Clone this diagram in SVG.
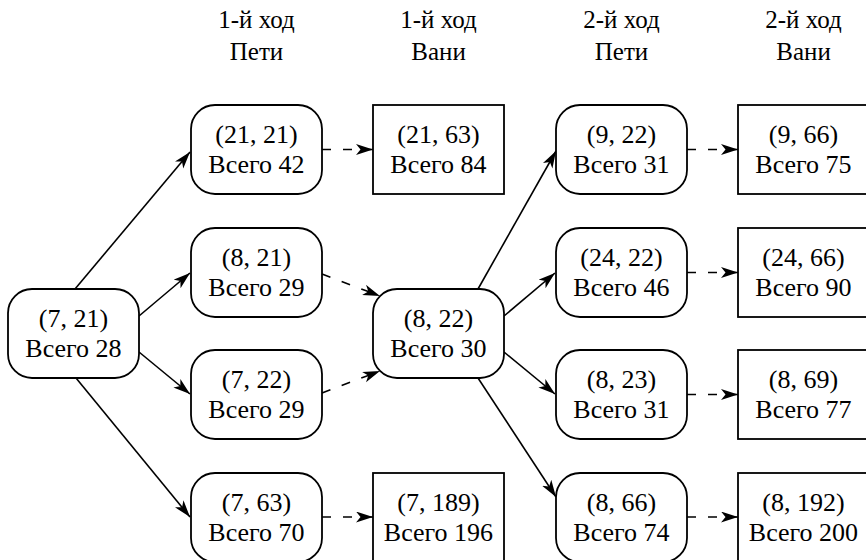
<svg xmlns="http://www.w3.org/2000/svg" width="866" height="560" viewBox="0 0 866 560">
<style>
text{font-family:"Liberation Serif","Times New Roman",serif;fill:#000;text-anchor:middle}
.box{fill:#fff;stroke:#000;stroke-width:1.8}
.t{font-size:26px}
.h{font-size:25px}
.s{fill:none;stroke:#000;stroke-width:1.6}
.d{fill:none;stroke:#000;stroke-width:1.6;stroke-dasharray:9 12}
</style>
<defs>
<marker id="ah" markerUnits="userSpaceOnUse" markerWidth="20" markerHeight="12" refX="17" refY="5.5" orient="auto" viewBox="0 0 20 12">
<path d="M0,0 L17,5.5 L0,11 L4.5,5.5 Z" fill="#000"/>
</marker>
</defs>
<g id="headers" font-family="Liberation Serif, serif">
<text class="h" x="256.5" y="28">1-й ход</text>
<text class="h" x="256.5" y="60">Пети</text>
<text class="h" x="438.5" y="28">1-й ход</text>
<text class="h" x="438.5" y="60">Вани</text>
<text class="h" x="621.5" y="28">2-й ход</text>
<text class="h" x="621.5" y="60">Пети</text>
<text class="h" x="803.5" y="28">2-й ход</text>
<text class="h" x="803.5" y="60">Вани</text>
</g>
<g id="connectors">
<path class="s" d="M75,289 L190,152" marker-end="url(#ah)"/>
<path class="s" d="M139,316 L190,273" marker-end="url(#ah)"/>
<path class="s" d="M139,352 L190,394" marker-end="url(#ah)"/>
<path class="s" d="M76,378 L190,517" marker-end="url(#ah)"/>
<path class="s" d="M478,289 L556,151" marker-end="url(#ah)"/>
<path class="s" d="M504,316 L555,273" marker-end="url(#ah)"/>
<path class="s" d="M504,352 L555,394" marker-end="url(#ah)"/>
<path class="s" d="M478,378 L556,497" marker-end="url(#ah)"/>
<path class="d" d="M322,149.5 L373,149.5" marker-end="url(#ah)"/>
<path class="d" d="M322,274 L380,296" marker-end="url(#ah)"/>
<path class="d" d="M322,393 L380,371" marker-end="url(#ah)"/>
<path class="d" d="M322,517 L373,517" marker-end="url(#ah)"/>
<path class="d" d="M687,149.5 L738,149.5" marker-end="url(#ah)"/>
<path class="d" d="M687,272.5 L738,272.5" marker-end="url(#ah)"/>
<path class="d" d="M687,394.5 L738,394.5" marker-end="url(#ah)"/>
<path class="d" d="M687,517 L738,517" marker-end="url(#ah)"/>
</g>
<g id="nodes" font-family="Liberation Serif, serif">
<g id="n0"><rect class="box" x="8" y="289" width="131" height="89" rx="24"/><text class="t" x="73.5" y="327">(7, 21)</text><text class="t" x="73.5" y="357">Всего 28</text></g>
<g id="n1"><rect class="box" x="191" y="105" width="131" height="89" rx="24"/><text class="t" x="256.5" y="143">(21, 21)</text><text class="t" x="256.5" y="173">Всего 42</text></g>
<g id="n2"><rect class="box" x="191" y="228" width="131" height="89" rx="24"/><text class="t" x="256.5" y="266">(8, 21)</text><text class="t" x="256.5" y="296">Всего 29</text></g>
<g id="n3"><rect class="box" x="191" y="350" width="131" height="89" rx="24"/><text class="t" x="256.5" y="388">(7, 22)</text><text class="t" x="256.5" y="418">Всего 29</text></g>
<g id="n4"><rect class="box" x="191" y="473" width="131" height="89" rx="24"/><text class="t" x="256.5" y="511">(7, 63)</text><text class="t" x="256.5" y="541">Всего 70</text></g>
<g id="n5"><rect class="box" x="373" y="105" width="131" height="89"/><text class="t" x="438.5" y="143">(21, 63)</text><text class="t" x="438.5" y="173">Всего 84</text></g>
<g id="n6"><rect class="box" x="373" y="289" width="131" height="89" rx="24"/><text class="t" x="438.5" y="327">(8, 22)</text><text class="t" x="438.5" y="357">Всего 30</text></g>
<g id="n7"><rect class="box" x="373" y="473" width="131" height="89"/><text class="t" x="438.5" y="511">(7, 189)</text><text class="t" x="438.5" y="541">Всего 196</text></g>
<g id="n8"><rect class="box" x="556" y="105" width="131" height="89" rx="24"/><text class="t" x="621.5" y="143">(9, 22)</text><text class="t" x="621.5" y="173">Всего 31</text></g>
<g id="n9"><rect class="box" x="556" y="228" width="131" height="89" rx="24"/><text class="t" x="621.5" y="266">(24, 22)</text><text class="t" x="621.5" y="296">Всего 46</text></g>
<g id="n10"><rect class="box" x="556" y="350" width="131" height="89" rx="24"/><text class="t" x="621.5" y="388">(8, 23)</text><text class="t" x="621.5" y="418">Всего 31</text></g>
<g id="n11"><rect class="box" x="556" y="473" width="131" height="89" rx="24"/><text class="t" x="621.5" y="511">(8, 66)</text><text class="t" x="621.5" y="541">Всего 74</text></g>
<g id="n12"><rect class="box" x="738" y="105" width="131" height="89"/><text class="t" x="803.5" y="143">(9, 66)</text><text class="t" x="803.5" y="173">Всего 75</text></g>
<g id="n13"><rect class="box" x="738" y="228" width="131" height="89"/><text class="t" x="803.5" y="266">(24, 66)</text><text class="t" x="803.5" y="296">Всего 90</text></g>
<g id="n14"><rect class="box" x="738" y="350" width="131" height="89"/><text class="t" x="803.5" y="388">(8, 69)</text><text class="t" x="803.5" y="418">Всего 77</text></g>
<g id="n15"><rect class="box" x="738" y="473" width="131" height="89"/><text class="t" x="803.5" y="511">(8, 192)</text><text class="t" x="803.5" y="541">Всего 200</text></g>
</g>
</svg>
